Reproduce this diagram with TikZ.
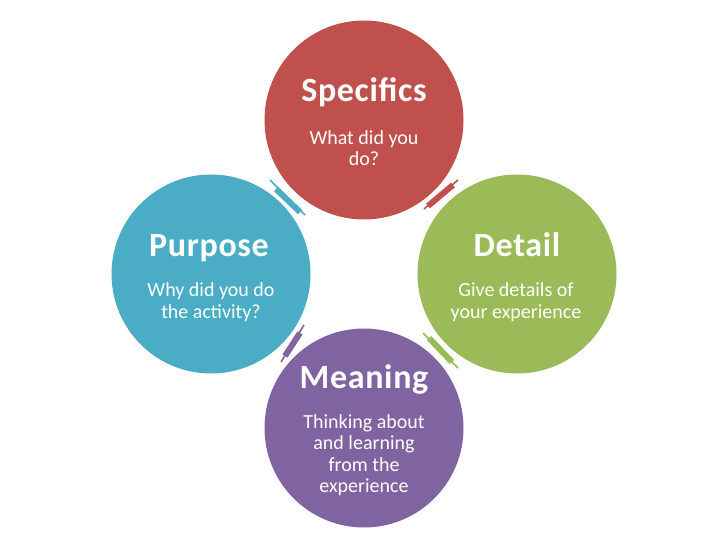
\documentclass[tikz,border=0pt]{standalone}
\usepackage{fontspec}
\setmainfont{Carlito}
\definecolor{cred}{HTML}{C0504D}
\definecolor{cblue}{HTML}{4BACC6}
\definecolor{cgreen}{HTML}{9BBB59}
\definecolor{cpurple}{HTML}{8064A2}
\begin{document}
\begin{tikzpicture}[x=1pt,y=-1pt,
  circ/.style={circle,minimum size=199pt,inner sep=0pt},
  ttl/.style={text=white,font=\bfseries\fontsize{34}{38}\selectfont\addfontfeatures{LetterSpace=2},inner sep=0pt,anchor=base},
  body/.style={text=white,font=\fontsize{20}{21.5}\selectfont,align=center,inner sep=0pt},
  thin/.style={line width=1.6pt},
  thick/.style={line width=6pt}]
\useasboundingbox (0,0) rectangle (720,540);
\fill[white] (0,0) rectangle (720,540);
\node[circ,fill=cred] (spec) at (364,120) {};
\node[circ,fill=cblue] (purp) at (211,274) {};
\node[circ,fill=cgreen] (det) at (517,274) {};
\node[circ,fill=cpurple] (mean) at (364,428) {};
% titles and texts
\node[ttl] (t1) at (364,102) {Specifics};
\node[body] (b1) at (364,148) {What did you\\do?};
\node[ttl] (t2) at (209,256) {Purpose};
\node[body] (b2) at (211,302) {Why did you do\\the activity?};
\node[ttl] (t3) at (517,256) {Detail};
\node[body] (b3) at (516,302) {Give details of\\your experience};
\node[ttl] (t4) at (364,388) {Meaning};
\node[body] (b4) at (364,455) {Thinking about\\and learning\\from the\\experience};
% connectors
\coordinate (c1a) at (270,180); \coordinate (c1b) at (305,215);
\coordinate (c1c) at (276,189); \coordinate (c1d) at (300,212);
\draw[cblue,thin] (c1a) -- (c1b);
\draw[cblue,thick] (c1c) -- (c1d);
\coordinate (c2a) at (458,180); \coordinate (c2b) at (424,209);
\coordinate (c2c) at (453,185); \coordinate (c2d) at (428,206);
\draw[cred,thin] (c2a) -- (c2b);
\draw[cred,thick] (c2c) -- (c2d);
\coordinate (c3a) at (304,325); \coordinate (c3b) at (281,362);
\coordinate (c3c) at (300,333); \coordinate (c3d) at (285,356);
\draw[cpurple,thin] (c3a) -- (c3b);
\draw[cpurple,thick] (c3c) -- (c3d);
\coordinate (c4a) at (423,333); \coordinate (c4b) at (458,368);
\coordinate (c4c) at (429,338); \coordinate (c4d) at (452,362);
\draw[cgreen,thin] (c4a) -- (c4b);
\draw[cgreen,thick] (c4c) -- (c4d);
\end{tikzpicture}
\end{document}
